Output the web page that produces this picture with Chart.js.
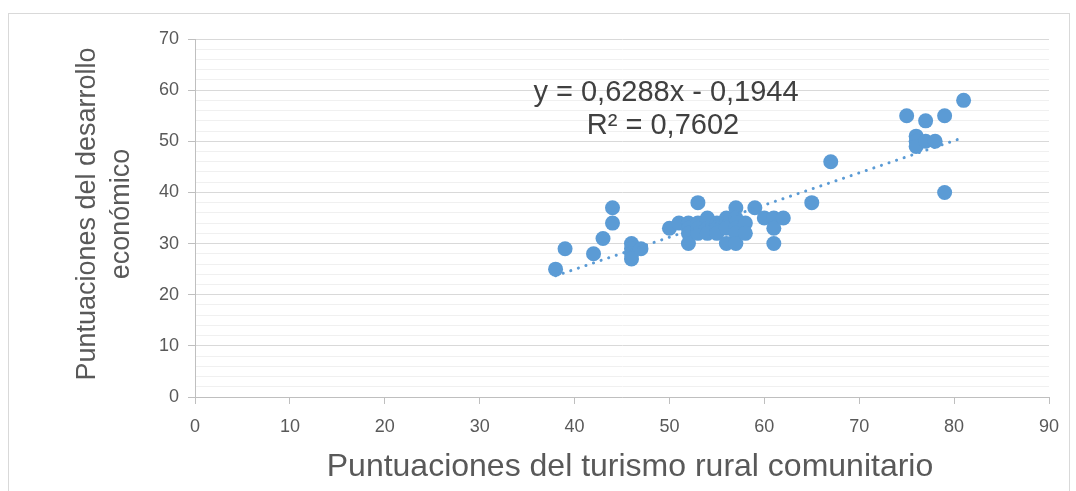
<!DOCTYPE html>
<html>
<head>
<meta charset="utf-8">
<script src="https://cdn.jsdelivr.net/npm/chart.js@4.4.0/dist/chart.umd.min.js"></script>
<style>
  html, body { margin: 0; padding: 0; background: #fff; }
  #frame { position: absolute; left: 8px; top: 13px; width: 1060px; height: 490px; border: 1px solid #d9d9d9; }
  #wrap { position: absolute; left: 0; top: 0; width: 1076px; height: 491px; }
</style>
</head>
<body>
<div id="frame"></div>
<div id="wrap"><canvas id="chart"></canvas></div>
<script>
// values
const turismo = [38, 39, 42, 43, 44, 44, 46, 46, 46, 46, 47,
    50, 51, 52, 52, 52, 52, 53, 53, 53, 53, 54, 54, 54, 55, 55, 55,
    56, 56, 56, 56, 57, 57, 57, 57, 57, 58, 58, 59, 60, 61, 61, 61, 62,
    65, 67, 75, 76, 76, 76, 77, 77, 78, 79, 79, 81];
const desarrollo = [25, 29, 28, 31, 37, 34, 30, 29, 28, 27, 29,
    33, 34, 34, 33, 32, 30, 38, 34, 33, 32, 35, 33, 32, 34, 33, 32,
    35, 34, 33, 30, 37, 35, 33, 32, 30, 34, 32, 37, 35, 35, 33, 30, 35,
    38, 46, 55, 51, 50, 49, 54, 50, 50, 55, 40, 58];
const trendX = [38, 81];
const trendY = [23.70, 50.74];
const xTicks = [0, 10, 20, 30, 40, 50, 60, 70, 80, 90];
const yTicks = [0, 10, 20, 30, 40, 50, 60, 70];

const xTitle = "Puntuaciones del turismo rural comunitario";
const yTitle = ["Puntuaciones del desarrollo", "económico"];
const equation = ["y = 0,6288x - 0,1944", "R² = 0,7602"];

const blue = "#5B9BD5";

const points = turismo.map((x, i) => ({ x: x, y: desarrollo[i] }));
const trend = trendX.map((x, i) => ({ x: x, y: trendY[i] }));

// axis titles and the trendline label
const textPlugin = {
    id: "texts",
    afterDraw(chart) {
        const ctx = chart.ctx;
        ctx.save();
        ctx.textAlign = "center";
        ctx.textBaseline = "middle";
        ctx.fillStyle = "#595959";
        ctx.font = '32px "Liberation Sans"';
        ctx.fillText(xTitle, 630, 467);

        ctx.save();
        ctx.translate(105, 214);
        ctx.rotate(-Math.PI / 2);
        ctx.font = '27px "Liberation Sans"';
        ctx.fillText(yTitle[0], 0, -17);
        ctx.fillText(yTitle[1], 0, 17);
        ctx.restore();

        ctx.fillStyle = "#404040";
        ctx.font = '29px "Liberation Sans"';
        ctx.fillText(equation[0], 666, 93);
        ctx.fillText(equation[1], 663, 126);
        ctx.restore();
    }
};

new Chart(document.getElementById("chart"), {
    type: "scatter",
    data: {
        datasets: [{
            label: "Trend",
            type: "line",
            data: trend,
            borderColor: blue,
            borderWidth: 3,
            borderDash: [0.1, 7.9],
            borderCapStyle: "round",
            pointRadius: 0,
            fill: false
        }, {
            label: "Datos",
            data: points,
            backgroundColor: blue,
            borderWidth: 0,
            pointRadius: 7.5,
            pointHoverRadius: 7.5
        }]
    },
    options: {
        responsive: true,
        maintainAspectRatio: false,
        animation: false,
        layout: { padding: { top: 39, right: 27, left: 0, bottom: 0 } },
        plugins: {
            legend: { display: false },
            tooltip: { enabled: false }
        },
        scales: {
            x: {
                type: "linear",
                min: 0,
                max: 90,
                afterBuildTicks: s => { s.ticks = xTicks.map(v => ({ value: v })); },
                afterFit: s => { s.height = 94; },
                ticks: { color: "#595959", font: { family: "Liberation Sans", size: 18 }, padding: 12, maxRotation: 0 },
                grid: { drawOnChartArea: false, tickLength: 7, tickColor: "#bfbfbf" },
                border: { color: "#bfbfbf" }
            },
            y: {
                min: 0,
                max: 70,
                ticks: {
                    stepSize: 2,
                    autoSkip: false,
                    color: "#595959",
                    font: { family: "Liberation Sans", size: 18 },
                    padding: 9,
                    callback: v => yTicks.includes(v) ? v : ""
                },
                afterFit: s => { s.width = 195; },
                grid: {
                    color: c => (c.tick.value % 10 === 0 ? "#d9d9d9" : "#f0f0f0"),
                    tickColor: c => (c.tick.value % 10 === 0 ? "#bfbfbf" : "rgba(0,0,0,0)"),
                    tickLength: 7
                },
                border: { color: "#bfbfbf" }
            }
        }
    },
    plugins: [textPlugin]
});
</script>
</body>
</html>
